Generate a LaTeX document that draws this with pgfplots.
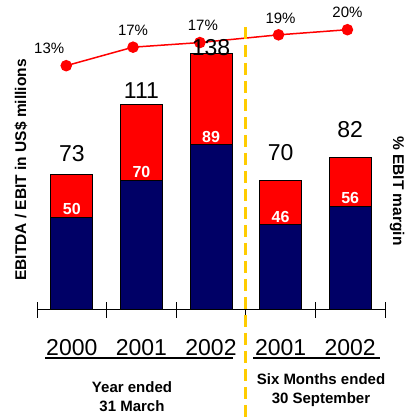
\documentclass[border=0pt]{standalone}
\usepackage{pgfplots}
\pgfplotsset{compat=1.18}
\usepackage{pgfplotstable}
\usepackage{fontspec}
\setmainfont{Liberation Sans}
\definecolor{navyb}{HTML}{000066}
\definecolor{redb}{HTML}{FF0000}
\definecolor{goldl}{HTML}{FFCC00}

\pgfplotstableread{
x total ebit tshift
0 73 50 21
1 111 70 13
2 138 89 6
3 70 46 28
4 82 56 28
}\bars
\pgfplotstableread{
x margin lab lx
-0.08 13 13 -17
0.88 16.6 17 0
1.84 17.5 17 3
2.97 19 19 2
3.96 20 20 0
}\margins

\begin{document}
\begin{tikzpicture}[x=1pt,y=1pt]
\useasboundingbox (0,0) rectangle (409,417);
% secondary axis: EBIT margin
\begin{axis}[
  at={(37pt,107pt)}, anchor=south west,
  scale only axis, width=348pt, height=290pt,
  xmin=-0.5, xmax=4.5, ymin=-34.53, ymax=21.89,
  /pgf/number format/assume math mode=true,
  hide axis, clip=false]
\addplot[red, line width=1.5pt, mark=*, mark size=5pt,
  mark options={fill=red, draw=red},
  nodes near coords={\pgfmathprintnumber{\pgfplotspointmeta}\%},
  point meta=\thisrow{lab},
  visualization depends on={\thisrow{lx} \as \mylx},
  every node near coord/.append style={font=\fontsize{15}{18}\selectfont,
    text=black, anchor=center, yshift=17pt, xshift=\mylx pt}]
  table[x=x,y=margin]{\margins};
\end{axis}
% primary axis: bars
\begin{axis}[
  at={(37pt,107pt)}, anchor=south west,
  scale only axis, width=348pt, height=290pt,
  xmin=-0.5, xmax=4.5, ymin=0, ymax=156.3,
  /pgf/number format/assume math mode=true,
  axis y line=none, axis x line*=bottom,
  axis line style={black, line width=1pt},
  xtick={-0.5,0.5,1.5,2.5,3.5,4.5}, xticklabels={},
  major tick length=16pt, tick align=center,
  tick style={black, line width=1pt},
  extra x ticks={0,1,2,3,4},
  extra x tick labels={2000,2001,2002,2001,2002},
  extra x tick style={major tick length=0pt,
    tick label style={anchor=base, yshift=-46pt, font=\fontsize{23}{27}\selectfont}},
  clip=false]
\addplot[ybar, bar width=42pt, bar shift=0pt, fill=redb, draw=black, line width=1pt,
  nodes near coords, point meta=y,
  visualization depends on={\thisrow{tshift} \as \myshift},
  every node near coord/.append style={font=\fontsize{23}{27}\selectfont,
    text=black, anchor=center, yshift=\myshift pt}]
  table[x=x,y=total]{\bars};
\addplot[ybar, bar width=42pt, bar shift=0pt, fill=navyb, draw=black, line width=1pt,
  nodes near coords, point meta=y,
  every node near coord/.append style={font=\bfseries\fontsize{16}{19}\selectfont,
    text=white, anchor=center, yshift=8pt}]
  table[x=x,y=ebit]{\bars};
\end{axis}
\node[rotate=90, font=\bfseries\fontsize{15.5}{18}\selectfont] at (21,247) {EBITDA / EBIT in US\$ millions};
\node[rotate=-90, font=\bfseries\fontsize{15.5}{18}\selectfont] at (397,226) {\% EBIT margin};
\draw[line width=1.2pt] (45,59) -- (233,59);
\draw[line width=1.2pt] (253,59) -- (380,59);
\node[align=center, font=\bfseries\fontsize{15}{19}\selectfont] at (132,20.5) {Year ended\\31 March};
\node[align=center, font=\bfseries\fontsize{15}{19}\selectfont] at (321,26.5) {Six Months ended\\30 September};
\draw[goldl, line width=3pt, dash pattern=on 12pt off 6pt] (245.7,390) -- (245.7,0);
\end{tikzpicture}
\end{document}
